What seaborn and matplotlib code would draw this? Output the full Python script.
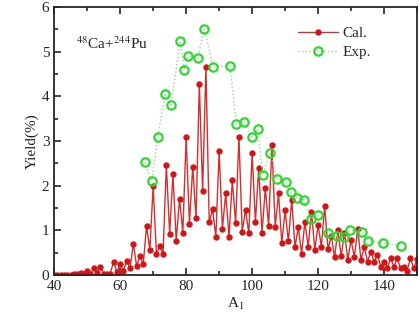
import matplotlib
matplotlib.use('Agg')
import matplotlib.pyplot as plt
import seaborn as sns
import numpy as np
from matplotlib.ticker import MultipleLocator

# Cal. yields for A1 = 40..150
cal_a = list(range(40, 151))
cal_y = [0.01, 0.01, 0.01, 0.01, 0.01, 0.01, 0.02, 0.02, 0.05, 0.02,
         0.08, 0.03, 0.15, 0.05, 0.18, 0.03, 0.03, 0.03, 0.30, 0.07,
         0.24, 0.10, 0.32, 0.15, 0.70, 0.20, 0.42, 0.25, 1.10, 0.55,
         2.00, 0.47, 0.65, 0.47, 2.46, 0.92, 2.25, 0.77, 1.70, 0.95,
         3.08, 1.15, 2.42, 1.27, 4.28, 1.88, 4.66, 1.18, 1.47, 0.85,
         2.77, 1.04, 1.83, 0.86, 2.12, 1.16, 3.09, 0.97, 1.46, 0.93,
         2.72, 1.19, 2.39, 0.95, 1.94, 1.10, 2.91, 1.08, 1.83, 0.71,
         1.45, 0.75, 1.68, 0.63, 1.07, 0.48, 1.19, 0.63, 1.42, 0.56,
         1.12, 0.63, 1.54, 0.58, 0.88, 0.40, 1.00, 0.42, 0.95, 0.34,
         0.78, 0.40, 1.04, 0.34, 0.63, 0.30, 0.52, 0.30, 0.45, 0.19,
         0.30, 0.16, 0.37, 0.19, 0.37, 0.15, 0.19, 0.10, 0.37, 0.15,
         0.35]

# Exp. yields
exp_a = [67.4, 69.6, 71.4, 73.6, 75.4, 78.2, 79.5, 80.7, 83.5, 85.5,
         88.2, 93.3, 95.2, 97.4, 99.9, 101.7, 103.2, 105.5, 107.6, 110.2,
         111.7, 113.5, 115.7, 117.7, 120.0, 123.1, 125.8, 127.8, 129.7, 133.3,
         135.2, 139.8, 145.2]
exp_y = [2.52, 2.10, 3.08, 4.06, 3.80, 5.24, 4.59, 4.90, 4.85, 5.50,
         4.66, 4.68, 3.37, 3.43, 3.09, 3.27, 2.24, 2.74, 2.14, 2.09,
         1.85, 1.72, 1.68, 1.26, 1.34, 0.93, 0.87, 0.86, 1.00, 0.97,
         0.77, 0.71, 0.66]

sns.set_style('ticks')
plt.rcParams['font.family'] = ['Liberation Serif', 'DejaVu Serif']
plt.rcParams['mathtext.fontset'] = 'stix'

fig = plt.figure(figsize=(4.2, 3.27), dpi=100)
ax = fig.add_axes([0.129, 0.159, 0.864, 0.82])

sns.lineplot(x=cal_a, y=cal_y, ax=ax, color='#d03030', linewidth=1.0,
             marker='o', markersize=3.8, markerfacecolor='#d41414',
             markeredgecolor='#d41414', label='Cal.', sort=False)
sns.lineplot(x=exp_a, y=exp_y, ax=ax, color='#8fdc8f', linewidth=1.0,
             linestyle=':', marker='o', markersize=6,
             markerfacecolor='none', markeredgecolor='#2ed82e',
             markeredgewidth=1.6, label='Exp.', sort=False)

ax.set_xlim(40, 150)
ax.set_ylim(0, 6)
ax.xaxis.set_major_locator(MultipleLocator(20))
ax.xaxis.set_minor_locator(MultipleLocator(10))
ax.yaxis.set_major_locator(MultipleLocator(1))
ax.yaxis.set_minor_locator(MultipleLocator(0.5))
ax.tick_params(which='both', direction='in', top=True, right=False,
               labelsize=11, width=1.2)
ax.tick_params(which='major', length=5)
ax.tick_params(which='minor', length=3)
for s in ax.spines.values():
    s.set_linewidth(1.3)

ax.set_xlabel('A$_1$', fontsize=11, labelpad=2)
ax.set_ylabel('Yield(%)', fontsize=11, labelpad=2)

ax.text(46.7, 5.06, '$^{48}$Ca+$^{244}$Pu', fontsize=11, va='baseline')

leg = ax.legend(loc='upper right', frameon=False, fontsize=11,
                handlelength=2.6, handletextpad=0.3, borderaxespad=0.6,
                labelspacing=0.35, bbox_to_anchor=(0.915, 0.985))

fig.savefig('out.png', dpi=100)
